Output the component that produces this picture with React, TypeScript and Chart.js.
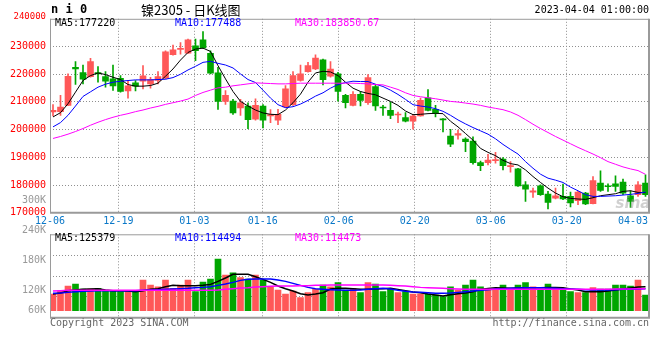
import React, { useEffect, useRef } from 'react';
import { Chart, registerables } from 'chart.js';

Chart.register(...registerables);

// ---------------- data ----------------
const dates = [
  '12-06','12-07','12-08','12-09','12-12','12-13','12-14','12-15','12-16','12-19',
  '12-20','12-21','12-22','12-23','12-26','12-27','12-28','12-29','12-30','01-03',
  '01-04','01-05','01-06','01-09','01-10','01-11','01-12','01-13','01-16','01-17',
  '01-18','01-19','01-20','01-30','01-31','02-01','02-02','02-03','02-06','02-07',
  '02-08','02-09','02-10','02-13','02-14','02-15','02-16','02-17','02-20','02-21',
  '02-22','02-23','02-24','02-27','02-28','03-01','03-02','03-03','03-06','03-07',
  '03-08','03-09','03-10','03-13','03-14','03-15','03-16','03-17','03-20','03-21',
  '03-22','03-23','03-24','03-27','03-28','03-29','03-30','03-31','04-03','04-04',
];
const labelIdx = [0, 9, 19, 28, 38, 48, 58, 68, 78];

const opens = [
  206360, 206480, 208750, 222490, 220570, 219140, 220570, 219140, 218300, 218540,
  214000, 216870, 217470, 216510, 217710, 218540, 227030, 228940, 227620, 230250,
  232400, 227500, 220450, 210180, 210300, 207790, 208510, 203730, 208510, 204920,
  203370, 208150, 208990, 217710, 220930, 221890, 225230, 219260, 220100, 212330,
  208750, 212690, 209700, 215560, 208030, 206950, 205280, 204330, 203010, 204920,
  211490, 207310, 203730, 197640, 197990, 196560, 195840, 188080, 188080, 188800,
  189390, 186650, 185810, 180070, 177440, 179710, 176730, 175290, 175890, 175890,
  174340, 177090, 173260, 180670, 179600, 180430, 181030, 176130, 176490, 180670,
];
const highs = [
  208990, 212330, 220100, 224520, 223320, 225710, 222720, 220930, 223320, 219500,
  217590, 217710, 223080, 218900, 220930, 228460, 230490, 231450, 232640, 232640,
  235390, 228460, 222490, 214120, 210900, 210900, 209700, 211140, 208990, 207190,
  207310, 215910, 220930, 223320, 224280, 227030, 225470, 224520, 220690, 212690,
  213760, 213760, 219860, 216270, 208750, 209940, 206360, 206120, 205400, 211370,
  214480, 208750, 203970, 200140, 199790, 197040, 197400, 188680, 191060, 191780,
  189870, 188440, 186050, 181270, 178880, 180070, 177680, 178880, 180310, 177440,
  177680, 177330, 183060, 185090, 180430, 183300, 182100, 177920, 181270, 183660,
];
const lows = [
  204920, 205160, 208600, 216270, 216510, 218900, 217110, 215320, 214120, 213530,
  211370, 214000, 214720, 214960, 216510, 218300, 226910, 227260, 227500, 224880,
  229300, 220100, 207310, 209100, 205520, 205160, 200380, 203370, 200620, 202530,
  201820, 207910, 208750, 217470, 220690, 221650, 216150, 218900, 210300, 207790,
  208510, 208510, 209100, 206950, 205160, 203970, 202530, 202770, 200140, 204810,
  206720, 204570, 199190, 193810, 196560, 192020, 187480, 185210, 187240, 187840,
  185450, 184610, 179480, 174100, 175530, 176250, 171350, 174940, 174700, 172070,
  172910, 172910, 173140, 177680, 177680, 177680, 176490, 171950, 175890, 175890,
];
const closes = [
  206950, 208150, 219260, 221890, 218180, 224520, 220100, 217470, 215800, 213760,
  215800, 215680, 219380, 218070, 219140, 228100, 228820, 229180, 232400, 228460,
  229530, 220330, 210180, 212330, 206010, 209700, 203610, 208750, 203370, 205400,
  205520, 214720, 219500, 220100, 223080, 225830, 218070, 221890, 213760, 209700,
  212690, 210540, 218780, 208510, 207790, 205160, 205520, 203010, 204920, 210540,
  206950, 205880, 203490, 194770, 198590, 195600, 188080, 187000, 189030, 189150,
  187000, 187000, 179710, 178520, 177920, 176490, 173740, 176130, 174940, 173500,
  177440, 173140, 181630, 178040, 179360, 179480, 177090, 174100, 180070, 176490,
];
const ma5 = [
  204570, 206120, 209340, 213530, 217710, 219500, 220450, 219860, 218900, 218070,
  216270, 215680, 215680, 215910, 216750, 219260, 221890, 225110, 227860, 229060,
  229410, 228220, 223080, 218300, 213760, 210180, 208510, 207070, 206000, 205520,
  205400, 207070, 209700, 212810, 217110, 220450, 221050, 220810, 219500, 217110,
  214960, 213760, 213050, 212570, 211370, 210180, 208750, 206720, 205400, 205520,
  205760, 205880, 205760, 203010, 200980, 198590, 196200, 193220, 191780, 190590,
  188910, 187720, 187240, 185450, 183060, 180910, 178880, 177090, 175770, 175180,
  174940, 174820, 175410, 176130, 176490, 176850, 177680, 177920, 177330, 177220,
];
const ma10 = [
  200980, 202530, 205160, 208510, 211970, 213640, 215320, 216390, 217110, 217470,
  217710, 217950, 217950, 217950, 218070, 218180, 218780, 219980, 221530, 222840,
  224280, 224640, 223920, 223320, 222250, 220100, 218070, 216990, 214240, 211370,
  208990, 207910, 208270, 209220, 210540, 212090, 213290, 214960, 216270, 216990,
  217470, 217350, 217350, 216390, 215560, 214240, 212690, 210900, 208990, 208510,
  208150, 207550, 206600, 205160, 203490, 202060, 200740, 199550, 198350, 196680,
  194650, 192860, 191180, 188440, 186050, 183900, 182460, 181750, 180910, 179240,
  177920, 176490, 175890, 175890, 176010, 176130, 176370, 176610, 176970, 177488,
];
const ma30 = [
  196800, 197520, 198350, 199310, 200380, 201580, 202650, 203610, 204450, 205160,
  205760, 206480, 207070, 207790, 208390, 209110, 209700, 210300, 211020, 212330,
  213410, 214240, 215080, 215320, 215800, 216150, 216510, 216870, 216750, 216630,
  216510, 216510, 216630, 216750, 216750, 216750, 216750, 216750, 216750, 216750,
  216750, 216630, 216510, 216270, 216150, 215320, 214480, 213290, 212330, 211850,
  211490, 211140, 210660, 210180, 209940, 209580, 209220, 208750, 208150, 207670,
  207190, 206360, 205160, 203610, 201940, 200380, 198950, 197520, 196200, 194890,
  193570, 192380, 191180, 189870, 188440, 187480, 186530, 185810, 185210, 183850.67,
];
// volume, in thousands of lots
const volumeK = [
  87.0, 104.4, 128.8, 139.2, 113.1, 113.1, 116.6, 104.4, 104.4, 99.2,
  104.4, 99.2, 160.1, 134.0, 125.3, 160.1, 116.6, 134.0, 160.1, 99.2,
  149.7, 165.4, 269.8, 186.2, 198.4, 172.3, 165.4, 186.2, 160.1, 125.3,
  107.9, 87.0, 102.7, 67.9, 94.0, 111.4, 134.0, 125.3, 146.2, 107.9,
  116.6, 94.0, 146.2, 139.2, 99.2, 116.6, 94.0, 99.2, 87.0, 87.0,
  87.0, 81.8, 73.1, 125.3, 107.9, 134.0, 160.1, 125.3, 116.6, 107.9,
  134.0, 116.6, 134.0, 146.2, 125.3, 113.1, 139.2, 116.6, 116.6, 99.2,
  94.0, 94.0, 120.1, 113.1, 113.1, 134.0, 134.0, 128.8, 160.1, 81.8,
];
const volMa5K = [
  87.0, 92.3, 104.4, 107.9, 111.4, 113.1, 114.9, 107.9, 104.4, 104.4,
  102.7, 99.2, 104.4, 111.4, 114.9, 125.3, 132.3, 130.5, 130.5, 130.5,
  132.3, 137.5, 153.2, 170.6, 189.7, 189.7, 189.7, 177.5, 163.6, 148.0,
  128.8, 114.9, 102.7, 88.8, 81.8, 87.0, 94.0, 113.1, 116.6, 116.6,
  114.9, 111.4, 111.4, 113.1, 114.9, 116.6, 111.4, 104.4, 97.5, 94.0,
  87.0, 81.8, 76.6, 83.6, 88.8, 92.3, 99.2, 111.4, 116.6, 120.1,
  118.4, 116.6, 118.4, 120.1, 120.1, 120.1, 121.8, 121.8, 120.1, 113.1,
  107.9, 99.2, 99.2, 99.2, 102.7, 107.9, 113.1, 118.4, 123.6, 125.379,
];
const volMa10K = [
  90.5, 92.3, 95.7, 99.2, 101.0, 102.7, 104.4, 104.4, 104.4, 104.4,
  104.4, 104.4, 106.2, 107.9, 109.7, 111.4, 113.1, 114.9, 116.6, 120.1,
  121.8, 125.3, 132.3, 139.2, 148.0, 158.4, 163.6, 165.4, 165.4, 165.4,
  160.1, 153.2, 142.7, 132.3, 121.8, 114.9, 111.4, 109.7, 107.9, 106.2,
  106.2, 107.9, 111.4, 114.9, 116.6, 113.1, 106.2, 101.0, 97.5, 95.7,
  94.0, 90.5, 90.5, 92.3, 95.7, 99.2, 102.7, 106.2, 109.7, 113.1,
  114.9, 116.6, 118.4, 120.1, 120.1, 120.1, 118.4, 116.6, 114.9, 113.1,
  111.4, 109.7, 107.9, 107.9, 107.9, 109.7, 111.4, 111.4, 113.1, 114.494,
];
const volMa30K = [
  102.7, 104.4, 106.2, 106.2, 106.2, 106.2, 106.2, 106.2, 106.2, 106.2,
  106.2, 106.2, 106.2, 106.2, 106.2, 106.2, 106.2, 106.2, 106.2, 106.2,
  106.2, 106.2, 107.9, 111.4, 114.9, 118.4, 120.1, 123.6, 125.3, 127.1,
  128.8, 128.8, 128.8, 130.5, 130.5, 132.3, 132.3, 134.0, 134.0, 134.0,
  134.0, 134.0, 134.0, 134.0, 134.0, 132.3, 130.5, 128.8, 125.3, 121.8,
  120.1, 118.4, 116.6, 114.9, 113.1, 111.4, 111.4, 111.4, 111.4, 111.4,
  111.4, 111.4, 111.4, 111.4, 111.4, 111.4, 111.4, 111.4, 111.4, 111.4,
  111.4, 111.4, 112.0, 112.0, 112.5, 113.0, 113.1, 113.5, 114.0, 114.473,
];

const priceTickValues = [170000, 180000, 190000, 200000, 210000, 220000, 230000, 240000];
const volumeAxisLabels = ['300K', '240K', '180K', '120K', '60K'];

const titleSymbol = 'n i 0';
const titleText = '镍2305 - 日K线图';
const timeText = '2023-04-04 01:00:00';
const priceMaTexts = ['MA5:177220', 'MA10:177488', 'MA30:183850.67'];
const volumeMaTexts = ['MA5:125379', 'MA10:114494', 'MA30:114473'];
const copyrightText = 'Copyright 2023 SINA.COM';
const urlText = 'http://finance.sina.com.cn';
const watermarkText = 'sina';

// ---------------- layout & style ----------------
const W = 660;
const H = 360;
const L = 50;
const R = 649;
const MT = 18.8;
const MB = 212.7;
const VT = 234.3;
const VB = 317.7;
const SLOT = 7.5;
const XMIN = -0.4;
const XMAX = XMIN + (R - L) / SLOT;
const GRID_STEP = 7.6;
const VOL_PX = 0.1915; // px per thousand lots
const VOL_ZERO_Y = 310.7;
const VMIN = -(VB - VOL_ZERO_Y) / VOL_PX;
const VMAX = (VOL_ZERO_Y - VT) / VOL_PX;

const UP = '#ff5858';
const DOWN = '#00a600';
const GRID = '#8f8f8f';
const FRAME = '#9a9a9a';
const MONO = '"DejaVu Sans Mono", monospace';
const MA_COLORS = ['#000000', '#0000ff', '#ff00ff'];
const MA_X = [55, 175, 295];

const candleColors = opens.map((o, i) => (closes[i] >= o ? UP : DOWN));
const gridXValues = labelIdx
  .slice(1)
  .filter((i) => L + GRID_STEP * i < R - 10)
  .map((i) => (GRID_STEP * i) / SLOT + XMIN);

function text(
  ctx: CanvasRenderingContext2D,
  s: string,
  x: number,
  y: number,
  font: string,
  color: string,
  align: CanvasTextAlign = 'left'
) {
  ctx.save();
  ctx.font = font;
  ctx.fillStyle = color;
  ctx.textAlign = align;
  ctx.textBaseline = 'middle';
  ctx.fillText(s, x, y);
  ctx.restore();
}

function frame(ctx: CanvasRenderingContext2D, top: number, bottom: number) {
  ctx.save();
  ctx.strokeStyle = FRAME;
  ctx.lineWidth = 1;
  ctx.beginPath();
  ctx.moveTo(L + 0.5, top);
  ctx.lineTo(L + 0.5, bottom);
  ctx.moveTo(L, top + 0.5);
  ctx.lineTo(R, top + 0.5);
  ctx.stroke();
  ctx.lineWidth = 2;
  ctx.beginPath();
  ctx.moveTo(L, bottom);
  ctx.lineTo(R + 1, bottom);
  ctx.moveTo(R, top);
  ctx.lineTo(R, bottom);
  ctx.stroke();
  ctx.restore();
}

function xScale(): any {
  return {
    type: 'linear',
    offset: false,
    min: XMIN,
    max: XMAX,
    ticks: { display: false },
    grid: { color: GRID, lineWidth: 1, drawTicks: false, offset: false },
    border: { display: false, dash: [1, 2] },
    afterBuildTicks: (s: any) => {
      s.ticks = gridXValues.map((v) => ({ value: v }));
    },
  };
}

const mainDecor = {
  id: 'mainDecor',
  afterDraw(chart: any) {
    const ctx = chart.ctx as CanvasRenderingContext2D;
    frame(ctx, MT, MB);
    text(ctx, watermarkText, 633, 204, 'italic bold 15px "DejaVu Sans", sans-serif', 'rgba(150,150,150,0.45)', 'center');
    text(ctx, titleSymbol, 51, 10, `bold 12px ${MONO}`, '#000');
    text(ctx, titleText, 141, 10, '13px "Noto Sans CJK SC", sans-serif', '#000');
    text(ctx, timeText, R, 10, `10px ${MONO}`, '#000', 'right');
    text(ctx, String(priceTickValues[priceTickValues.length - 1]), 46, 17, `9px ${MONO}`, '#ff0000', 'right');
    priceMaTexts.forEach((s, k) => text(ctx, s, MA_X[k], 23, `10px ${MONO}`, MA_COLORS[k]));
    ctx.save();
    ctx.font = `10px ${MONO}`;
    labelIdx.forEach((i) => {
      const px = L + GRID_STEP * i;
      const w = ctx.measureText(dates[i]).width;
      if (px + w / 2 > R) text(ctx, dates[i], R - 1, 221, `10px ${MONO}`, '#0a78c8', 'right');
      else text(ctx, dates[i], px, 221, `10px ${MONO}`, '#0a78c8', 'center');
    });
    ctx.restore();
    const volLabelY = [200.3, 230.3];
    volLabelY.forEach((y, k) => text(ctx, volumeAxisLabels[k], 46, y, `10px ${MONO}`, '#999999', 'right'));
  },
};

const volDecor = {
  id: 'volDecor',
  afterDraw(chart: any) {
    const ctx = chart.ctx as CanvasRenderingContext2D;
    frame(ctx, VT, VB);
    volumeMaTexts.forEach((s, k) => text(ctx, s, MA_X[k], 238.5, `10px ${MONO}`, MA_COLORS[k]));
    const volLabelY = [260.7, 290, 310];
    volLabelY.forEach((y, k) => text(ctx, volumeAxisLabels[k + 2], 46, y, `10px ${MONO}`, '#999999', 'right'));
    text(ctx, copyrightText, L, 323.5, `10px ${MONO}`, '#666666');
    text(ctx, urlText, R, 323.5, `10px ${MONO}`, '#666666', 'right');
  },
};

function lineDs(values: number[], color: string, width: number, order: number) {
  return {
    type: 'line' as const,
    data: values.map((v, i) => ({ x: i, y: v })),
    borderColor: color,
    borderWidth: width,
    pointRadius: 0,
    tension: 0,
    fill: false,
    order,
  };
}

export default function App() {
  const mainRef = useRef<HTMLCanvasElement>(null);
  const volRef = useRef<HTMLCanvasElement>(null);

  useEffect(() => {
    document.body.style.margin = '0';
    const common: any = {
      responsive: false,
      maintainAspectRatio: false,
      animation: false,
      devicePixelRatio: 1,
      events: [],
      plugins: { legend: { display: false }, tooltip: { enabled: false } },
    };

    const main = new Chart(mainRef.current as HTMLCanvasElement, {
      type: 'bar',
      data: {
        datasets: [
          lineDs(ma30, MA_COLORS[2], 1, 0),
          lineDs(ma10, MA_COLORS[1], 1, 0),
          lineDs(ma5, MA_COLORS[0], 1, 0),
          {
            type: 'bar',
            data: lows.map((lo, i) => ({ x: i, y: [lo, highs[i]] })),
            backgroundColor: candleColors,
            barThickness: 1,
            grouped: false,
            order: 2,
          } as any,
          {
            type: 'bar',
            data: opens.map((o, i) => ({ x: i, y: [o, closes[i]] })),
            backgroundColor: candleColors,
            barThickness: 6,
            minBarLength: 1,
            grouped: false,
            order: 1,
          } as any,
        ],
      },
      options: {
        ...common,
        layout: { padding: { left: 0, right: W - R, top: MT, bottom: H - MB } },
        scales: {
          x: xScale(),
          y: {
            type: 'linear',
            min: priceTickValues[0],
            max: priceTickValues[priceTickValues.length - 1],
            afterBuildTicks: (s: any) => {
              s.ticks = priceTickValues.map((v) => ({ value: v }));
            },
            ticks: {
              color: '#ff0000',
              font: { family: MONO, size: 10 },
              padding: 4,
              callback: (v: any) => (v === priceTickValues[priceTickValues.length - 1] ? '' : String(v)),
            },
            grid: {
              drawTicks: false,
              lineWidth: 1,
              color: (c: any) =>
                c.tick && (c.tick.value === priceTickValues[0] || c.tick.value === priceTickValues[priceTickValues.length - 1])
                  ? 'rgba(0,0,0,0)'
                  : GRID,
            },
            border: { display: false, dash: [1, 2] },
            afterFit: (s: any) => {
              s.width = L;
            },
          },
        },
      },
      plugins: [mainDecor],
    } as any);

    const vol = new Chart(volRef.current as HTMLCanvasElement, {
      type: 'bar',
      data: {
        datasets: [
          lineDs(volMa30K, MA_COLORS[2], 1.5, 0),
          lineDs(volMa10K, MA_COLORS[1], 1.5, 0),
          lineDs(volMa5K, MA_COLORS[0], 1.5, 0),
          {
            type: 'bar',
            data: volumeK.map((v, i) => ({ x: i, y: v })),
            backgroundColor: candleColors,
            barThickness: 6,
            grouped: false,
            order: 1,
          } as any,
        ],
      },
      options: {
        ...common,
        layout: { padding: { left: 0, right: W - R, top: VT, bottom: H - VB } },
        scales: {
          x: xScale(),
          y: {
            type: 'linear',
            min: VMIN,
            max: VMAX,
            afterBuildTicks: (s: any) => {
              s.ticks = [1, 2, 3].map((k) => ({ value: VMIN + ((VMAX - VMIN) * k) / 4 }));
            },
            ticks: { display: false },
            grid: { drawTicks: false, color: GRID, lineWidth: 1 },
            border: { display: false, dash: [1, 2] },
            afterFit: (s: any) => {
              s.width = L;
            },
          },
        },
      },
      plugins: [volDecor],
    } as any);

    return () => {
      main.destroy();
      vol.destroy();
    };
  }, []);

  return (
    <div style={{ position: 'relative', width: W, height: H, background: '#fff' }}>
      <canvas ref={mainRef} width={W} height={H} style={{ position: 'absolute', left: 0, top: 0 }} />
      <canvas ref={volRef} width={W} height={H} style={{ position: 'absolute', left: 0, top: 0 }} />
    </div>
  );
}
